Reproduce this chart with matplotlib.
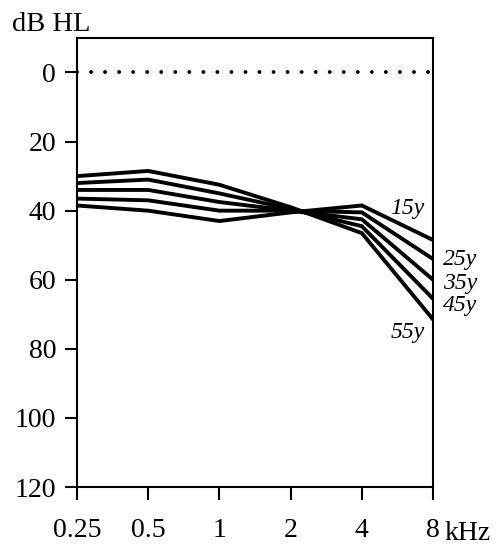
from matplotlib import pyplot as plt
import numpy as np

plt.rcParams['font.family'] = 'Liberation Serif'

freqs = [0.25, 0.5, 1, 2, 4, 8]
freq_labels = ["0.25", "0.5", "1", "2", "4", "8"]
ages = ["15y", "25y", "35y", "45y", "55y"]
hl_15 = [38.5, 40, 43, 40.5, 38.5, 48.5]
hl_25 = [36.5, 37, 40, 40, 40.5, 54]
hl_35 = [34, 34, 37.5, 40, 42.5, 60]
hl_45 = [32, 31, 35, 39.5, 44.5, 65.5]
hl_55 = [30, 28.5, 32.5, 39, 46.5, 71.5]
curves = [hl_15, hl_25, hl_35, hl_45, hl_55]
# where each age label sits (dB) and on which side of the 8 kHz axis
label_y = [39.5, 54, 61, 67.5, 75.3]
label_side = ["left", "right", "right", "right", "left"]
y_ticks = [0, 20, 40, 60, 80, 100, 120]

fig = plt.figure(figsize=(5.03, 5.5), dpi=100)
ax = fig.add_axes([0.153, 0.1145, 0.708, 0.8165])

ax.set_xscale('log', base=2)
ax.plot([0.25, 8], [0, 0], color='black', lw=2.8, dashes=[0.01, 3.6],
        dash_capstyle='round', zorder=1)
for c in curves:
    ax.plot(freqs, c, color='black', lw=2.8, solid_joinstyle='miter', zorder=3)

for age, y, side in zip(ages, label_y, label_side):
    dx = -6 if side == "left" else 7
    ha = "right" if side == "left" else "left"
    ax.annotate(age, xy=(8, y), xytext=(dx, 0), textcoords='offset points',
                ha=ha, va='center', fontsize=17, style='italic', annotation_clip=False)

ax.set_xlim(0.25, 8)
ax.set_ylim(120, -10)
ax.set_xticks(freqs)
ax.set_xticklabels(freq_labels)
ax.minorticks_off()
ax.set_yticks(y_ticks)
ax.tick_params(axis='both', labelsize=20, width=1.5, length=9, direction='out')
ax.tick_params(axis='x', pad=13)
ax.tick_params(axis='y', pad=6)
for s in ax.spines.values():
    s.set_linewidth(1.5)

ax.annotate("kHz", xy=(8, 0), xycoords=('data', 'axes fraction'), xytext=(8.5, -38.5),
            textcoords='offset points', ha='left', va='baseline', fontsize=20,
            annotation_clip=False)
fig.text(0.024, 0.944, "dB HL", fontsize=20.5, ha='left', va='baseline')

fig.savefig("out.png", dpi=100)
